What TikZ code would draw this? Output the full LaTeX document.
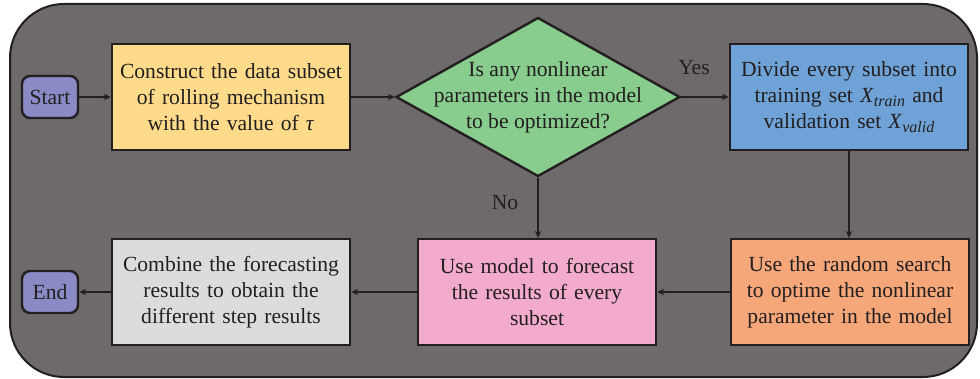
\documentclass[tikz,border=0pt]{standalone}
\usepackage{fontspec}
\setmainfont{Liberation Serif}
\usetikzlibrary{shapes.geometric,arrows.meta}

\definecolor{panel}{RGB}{110,106,107}
\definecolor{ink}{RGB}{35,31,32}
\definecolor{termfill}{RGB}{138,138,198}
\definecolor{yellowfill}{RGB}{253,219,138}
\definecolor{greenfill}{RGB}{136,204,142}
\definecolor{bluefill}{RGB}{111,163,216}
\definecolor{orangefill}{RGB}{246,167,122}
\definecolor{pinkfill}{RGB}{243,171,204}
\definecolor{grayfill}{RGB}{220,220,222}

\newcommand{\lowsub}[1]{\raisebox{-0.35ex}{\fontsize{8}{8}\selectfont\itshape #1}}

\tikzset{
  basefont/.style={font=\fontsize{10.8}{13}\selectfont, text=ink},
  terminal/.style={basefont, draw=ink, line width=1.2pt, rounded corners=4pt,
    minimum width=28pt, minimum height=21pt, inner sep=0pt},
  procbox/.style={basefont, draw=ink, line width=1.2pt, minimum width=119pt,
    minimum height=53pt, text width=116pt, align=center, inner sep=0pt},
  decision/.style={diamond, draw=ink, line width=1.2pt, aspect=1.79,
    minimum width=142pt, minimum height=79.5pt, inner sep=0pt},
  decisiontext/.style={basefont, align=center, inner sep=0pt},
  flow/.style={draw=ink, line width=1pt, -{Stealth[length=3.5pt,width=3.2pt]}},
  branch/.style={basefont}
}

\begin{document}
\begin{tikzpicture}[x=0.5pt,y=-0.5pt]
\useasboundingbox (0,0) rectangle (980,379);

% rounded background panel
\draw[fill=panel, draw=ink, line width=1pt, rounded corners=27pt]
  (10,4) rectangle (977,377);

% top row
\node[terminal, fill=termfill] (start) at (50,97) {Start};
\node[procbox, fill=yellowfill] (build) at (231,97)
  {Construct the data subset\\of rolling mechanism\\with the value of \textit{τ}};
\node[decision, fill=greenfill] (check) at (538,97) {};
\node[decisiontext] (checktext) at (check.center)
  {Is any nonlinear\\parameters in the model\\to be optimized?};
\node[procbox, fill=bluefill] (split) at (849,97)
  {Divide every subset into\\training set \textit{X}\lowsub{train} and\\validation set \textit{X}\lowsub{valid}};

% bottom row
\node[procbox, fill=orangefill] (search) at (850,292)
  {Use the random search\\to optime the nonlinear\\parameter in the model};
\node[procbox, fill=pinkfill] (predict) at (537,292)
  {Use model to forecast\\the results of every\\subset};
\node[procbox, fill=grayfill] (combine) at (231,292)
  {Combine the forecasting\\results to obtain the\\different step results};
\node[terminal, fill=termfill] (finish) at (50,292) {End};

% branch labels
\node[branch] (yes) at (694,68) {Yes};
\node[branch] (no) at (505,203) {No};

% connectors
\draw[flow] (start) -- (build);
\draw[flow] (build) -- (check);
\draw[flow] (check.east) -- (split.west);
\draw[flow] (split.south) -- (split.south |- search.north);
\draw[flow] (check.south) -- (check.south |- predict.north);
\draw[flow] (search) -- (predict);
\draw[flow] (predict) -- (combine);
\draw[flow] (combine) -- (finish);
\end{tikzpicture}
\end{document}
